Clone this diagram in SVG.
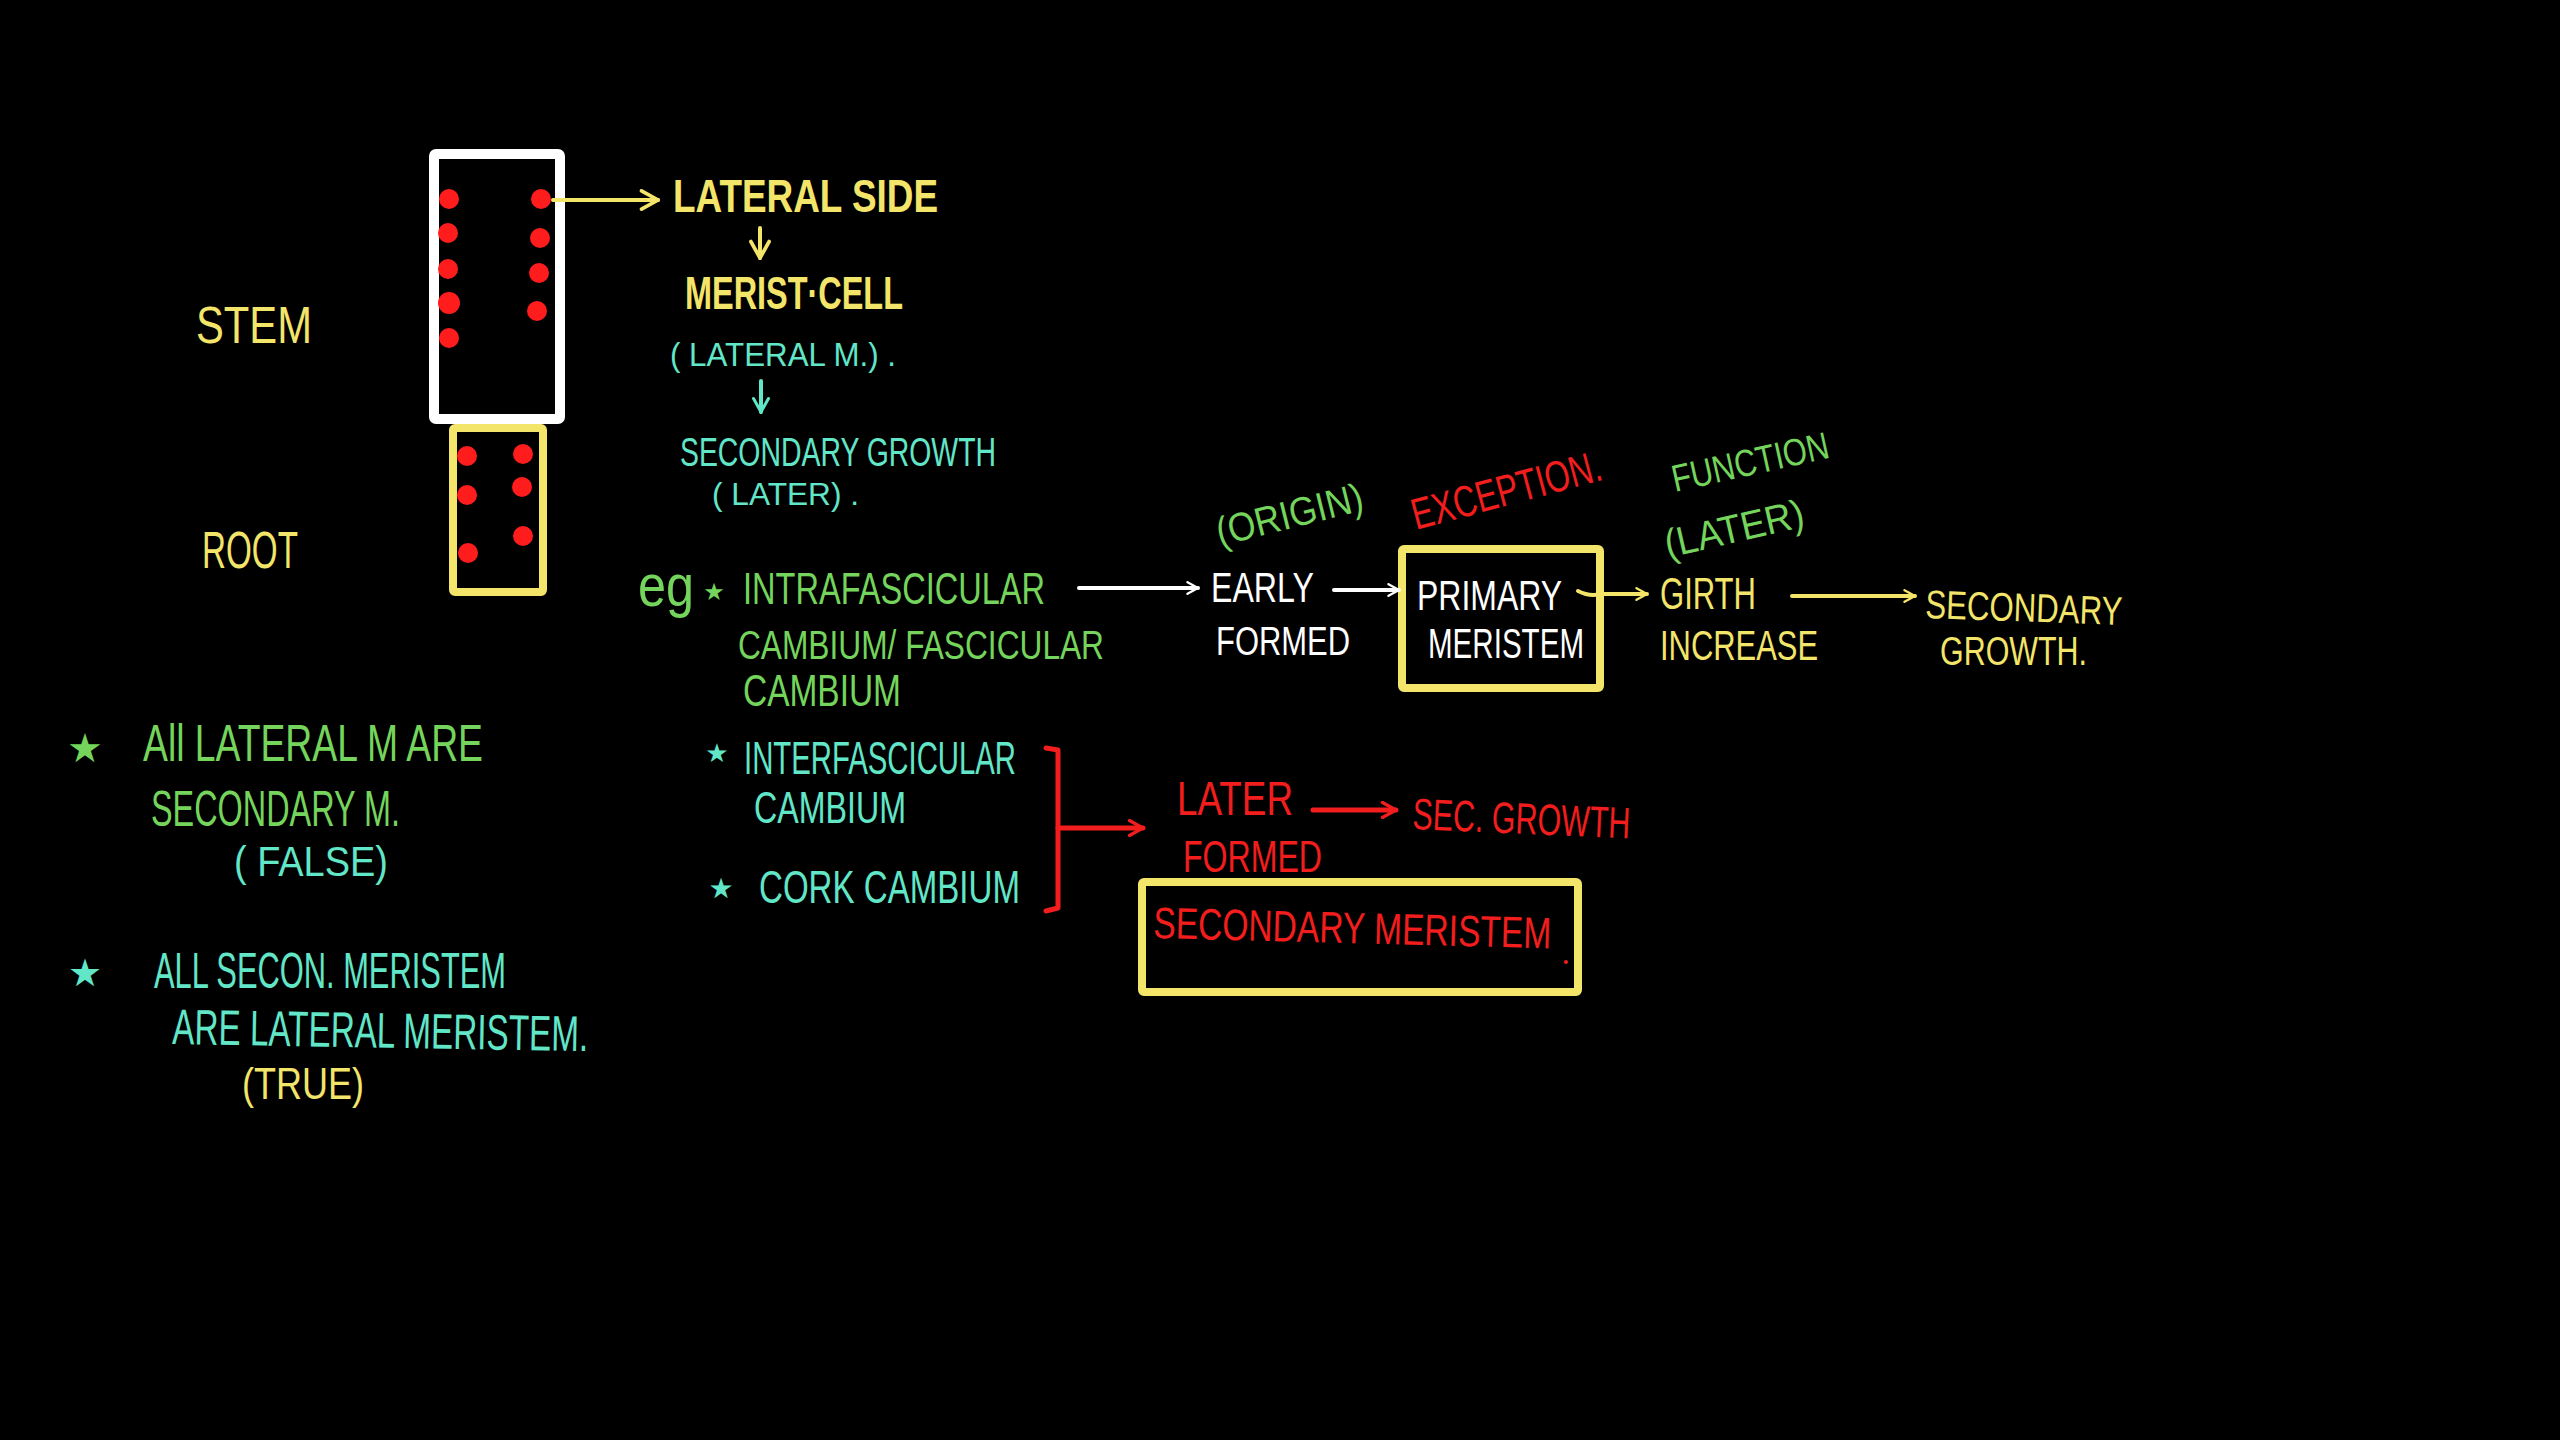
<svg xmlns="http://www.w3.org/2000/svg" width="2560" height="1440" viewBox="0 0 2560 1440">
<style>
text{font-family:"Liberation Sans",Arial,sans-serif;}
.y{fill:#f3e46a}.g{fill:#74d45c}.t{fill:#62e6c8}.r{fill:#f21d1d}.w{fill:#ffffff}
.st{font-family:"DejaVu Sans",sans-serif;text-anchor:middle}
.b{font-weight:bold}
.ln{fill:none;stroke-width:4;stroke-linecap:round;stroke-linejoin:round}
.lw{stroke:#ffffff}.ly{stroke:#f3e46a}.lt{stroke:#62e6c8}.lr{stroke:#f21d1d;stroke-width:5}
.dot{fill:#ff1c1c}
</style>
<defs>
<marker id="aw" viewBox="0 0 12 12" refX="11" refY="6" markerWidth="14" markerHeight="14" markerUnits="userSpaceOnUse" orient="auto"><path d="M2,1 L11,6 L2,11" fill="none" stroke="#ffffff" stroke-width="2" stroke-linecap="round"/></marker>
<marker id="ay" viewBox="0 0 12 12" refX="11" refY="6" markerWidth="14" markerHeight="14" markerUnits="userSpaceOnUse" orient="auto"><path d="M2,1 L11,6 L2,11" fill="none" stroke="#f3e46a" stroke-width="2" stroke-linecap="round"/></marker>
<marker id="ayb" viewBox="0 0 12 12" refX="11" refY="6" markerWidth="22" markerHeight="22" markerUnits="userSpaceOnUse" orient="auto"><path d="M2,1 L11,6 L2,11" fill="none" stroke="#f3e46a" stroke-width="2" stroke-linecap="round"/></marker>
<marker id="at" viewBox="0 0 12 12" refX="11" refY="6" markerWidth="18" markerHeight="18" markerUnits="userSpaceOnUse" orient="auto"><path d="M2,1 L11,6 L2,11" fill="none" stroke="#62e6c8" stroke-width="2" stroke-linecap="round"/></marker>
<marker id="ar" viewBox="0 0 12 12" refX="11" refY="6" markerWidth="18" markerHeight="18" markerUnits="userSpaceOnUse" orient="auto"><path d="M2,1 L11,6 L2,11" fill="none" stroke="#f21d1d" stroke-width="2.2" stroke-linecap="round"/></marker>
</defs>
<rect x="0" y="0" width="2560" height="1440" fill="#000000"/>

<g id="stem-label"><text class="y" x="196" y="343" font-size="52" textLength="116" lengthAdjust="spacingAndGlyphs">STEM</text></g>
<g id="root-label"><text class="y" x="202" y="568" font-size="52" textLength="96" lengthAdjust="spacingAndGlyphs">ROOT</text></g>

<g id="stem-box">
<rect x="434" y="154" width="126" height="265" fill="none" stroke="#ffffff" stroke-width="10" rx="2"/>
<circle class="dot" cx="449" cy="199" r="10"/><circle class="dot" cx="448" cy="233" r="10"/><circle class="dot" cx="448" cy="269" r="10"/><circle class="dot" cx="449" cy="303" r="11"/><circle class="dot" cx="449" cy="338" r="10"/>
<circle class="dot" cx="541" cy="199" r="10"/><circle class="dot" cx="540" cy="238" r="10"/><circle class="dot" cx="539" cy="273" r="10"/><circle class="dot" cx="537" cy="311" r="10"/>
</g>
<g id="root-box">
<rect x="453" y="428" width="90" height="164" fill="none" stroke="#f3e46a" stroke-width="8" rx="2"/>
<circle class="dot" cx="467" cy="456" r="10"/><circle class="dot" cx="467" cy="495" r="10"/><circle class="dot" cx="468" cy="553" r="10"/>
<circle class="dot" cx="523" cy="454" r="10"/><circle class="dot" cx="522" cy="487" r="10"/><circle class="dot" cx="523" cy="536" r="10"/>
</g>

<g id="lateral-side"><text class="y b" x="673" y="212" font-size="46" textLength="265" lengthAdjust="spacingAndGlyphs">LATERAL SIDE</text></g>
<g id="merist-cell"><text class="y b" x="685" y="309" font-size="46" textLength="218" lengthAdjust="spacingAndGlyphs">MERIST·CELL</text></g>
<g id="lateral-m"><text class="t" x="670" y="366" font-size="34" textLength="226" lengthAdjust="spacingAndGlyphs">( LATERAL M.) .</text></g>
<g id="secondary-growth-1">
<text class="t" x="680" y="466" font-size="40" textLength="316" lengthAdjust="spacingAndGlyphs">SECONDARY GROWTH</text>
<text class="t" x="712" y="505" font-size="32" textLength="147" lengthAdjust="spacingAndGlyphs">( LATER) .</text>
</g>

<g id="eg-intra">
<text class="g" x="638" y="606" font-size="60" textLength="56" lengthAdjust="spacingAndGlyphs">eg</text>
<text class="g st" x="714" y="600" font-size="24">★</text>
<text class="g" x="743" y="604" font-size="44" textLength="302" lengthAdjust="spacingAndGlyphs">INTRAFASCICULAR</text>
<text class="g" x="738" y="659" font-size="40" textLength="366" lengthAdjust="spacingAndGlyphs">CAMBIUM/ FASCICULAR</text>
<text class="g" x="743" y="706" font-size="44" textLength="158" lengthAdjust="spacingAndGlyphs">CAMBIUM</text>
</g>

<g id="early-formed">
<text class="w" x="1211" y="602" font-size="42" textLength="103" lengthAdjust="spacingAndGlyphs">EARLY</text>
<text class="w" x="1216" y="655" font-size="40" textLength="134" lengthAdjust="spacingAndGlyphs">FORMED</text>
</g>
<g id="origin"><text class="g" x="1220" y="546" font-size="40" textLength="150" lengthAdjust="spacingAndGlyphs" transform="rotate(-14 1220 546)">(ORIGIN)</text></g>
<g id="exception"><text class="r" x="1416" y="530" font-size="44" textLength="195" lengthAdjust="spacingAndGlyphs" transform="rotate(-15 1416 530)">EXCEPTION.</text></g>

<g id="primary-meristem">
<rect x="1402" y="549" width="198" height="139" fill="none" stroke="#f3e46a" stroke-width="8" rx="2"/>
<text class="w" x="1417" y="610" font-size="42" textLength="145" lengthAdjust="spacingAndGlyphs">PRIMARY</text>
<text class="w" x="1428" y="658" font-size="42" textLength="156" lengthAdjust="spacingAndGlyphs">MERISTEM</text>
</g>

<g id="function-later">
<text class="g" x="1675" y="492" font-size="38" textLength="160" lengthAdjust="spacingAndGlyphs" transform="rotate(-12.5 1675 492)">FUNCTION</text>
<text class="g" x="1668" y="558" font-size="40" textLength="142" lengthAdjust="spacingAndGlyphs" transform="rotate(-13 1668 558)">(LATER)</text>
</g>
<g id="girth-increase">
<text class="y" x="1660" y="609" font-size="45" textLength="96" lengthAdjust="spacingAndGlyphs">GIRTH</text>
<text class="y" x="1660" y="660" font-size="42" textLength="158" lengthAdjust="spacingAndGlyphs">INCREASE</text>
</g>
<g id="secondary-growth-2">
<text class="y" x="1925" y="618" font-size="40" textLength="197" lengthAdjust="spacingAndGlyphs" transform="rotate(2 1925 618)">SECONDARY</text>
<text class="y" x="1940" y="665" font-size="40" textLength="147" lengthAdjust="spacingAndGlyphs">GROWTH.</text>
</g>

<g id="interfascicular">
<text class="t st" x="717" y="762" font-size="26">★</text>
<text class="t" x="744" y="774" font-size="46" textLength="272" lengthAdjust="spacingAndGlyphs">INTERFASCICULAR</text>
<text class="t" x="754" y="823" font-size="44" textLength="152" lengthAdjust="spacingAndGlyphs">CAMBIUM</text>
</g>
<g id="cork-cambium">
<text class="t st" x="721" y="898" font-size="28">★</text>
<text class="t" x="759" y="903" font-size="46" textLength="261" lengthAdjust="spacingAndGlyphs">CORK CAMBIUM</text>
</g>

<g id="later-formed">
<text class="r" x="1177" y="815" font-size="48" textLength="116" lengthAdjust="spacingAndGlyphs">LATER</text>
<text class="r" x="1183" y="872" font-size="44" textLength="139" lengthAdjust="spacingAndGlyphs">FORMED</text>
</g>
<g id="sec-growth"><text class="r" x="1412" y="829" font-size="44" textLength="218" lengthAdjust="spacingAndGlyphs" transform="rotate(2.5 1412 829)">SEC. GROWTH</text></g>
<g id="secondary-meristem">
<rect x="1142" y="882" width="436" height="110" fill="none" stroke="#f3e46a" stroke-width="8" rx="2"/>
<text class="r" x="1153" y="938" font-size="44" textLength="398" lengthAdjust="spacingAndGlyphs" transform="rotate(1.5 1153 938)">SECONDARY MERISTEM</text>
<circle cx="1566" cy="962" r="2" fill="#f21d1d"/>
</g>

<g id="note-1">
<text class="g st" x="85" y="762" font-size="40">★</text>
<text class="g" x="143" y="761" font-size="52" textLength="340" lengthAdjust="spacingAndGlyphs">All LATERAL M  ARE</text>
<text class="g" x="151" y="826" font-size="50" textLength="249" lengthAdjust="spacingAndGlyphs">SECONDARY M.</text>
<text class="t" x="234" y="876" font-size="42" textLength="154" lengthAdjust="spacingAndGlyphs">( FALSE)</text>
</g>
<g id="note-2">
<text class="t st" x="85" y="986" font-size="38">★</text>
<text class="t" x="154" y="988" font-size="50" textLength="352" lengthAdjust="spacingAndGlyphs">ALL SECON. MERISTEM</text>
<text class="t" x="172" y="1044" font-size="50" textLength="416" lengthAdjust="spacingAndGlyphs" transform="rotate(1 172 1044)">ARE LATERAL MERISTEM.</text>
<text class="y" x="242" y="1099" font-size="44" textLength="122" lengthAdjust="spacingAndGlyphs">(TRUE)</text>
</g>

<g id="connectors">
<path class="ln ly" d="M553,200 L658,200" marker-end="url(#ayb)" stroke-width="5"/>
<path class="ln ly" d="M760,228 L760,258" marker-end="url(#ayb)" stroke-width="5"/>
<path class="ln lt" d="M761,381 L761,412" marker-end="url(#at)"/>
<path class="ln lw" d="M1079,588 L1198,588" marker-end="url(#aw)"/>
<path class="ln lw" d="M1334,590 L1399,590" marker-end="url(#aw)"/>
<path class="ln ly" d="M1578,591 Q1590,597 1600,594 L1647,594" marker-end="url(#ay)"/>
<path class="ln ly" d="M1792,596 L1915,596" marker-end="url(#ay)"/>
<path class="ln lr" d="M1046,748 L1058,750 L1058,908 L1046,911"/>
<path class="ln lr" d="M1058,828 L1143,828" marker-end="url(#ar)"/>
<path class="ln lr" d="M1313,810 L1396,810" marker-end="url(#ar)"/>
</g>
</svg>
